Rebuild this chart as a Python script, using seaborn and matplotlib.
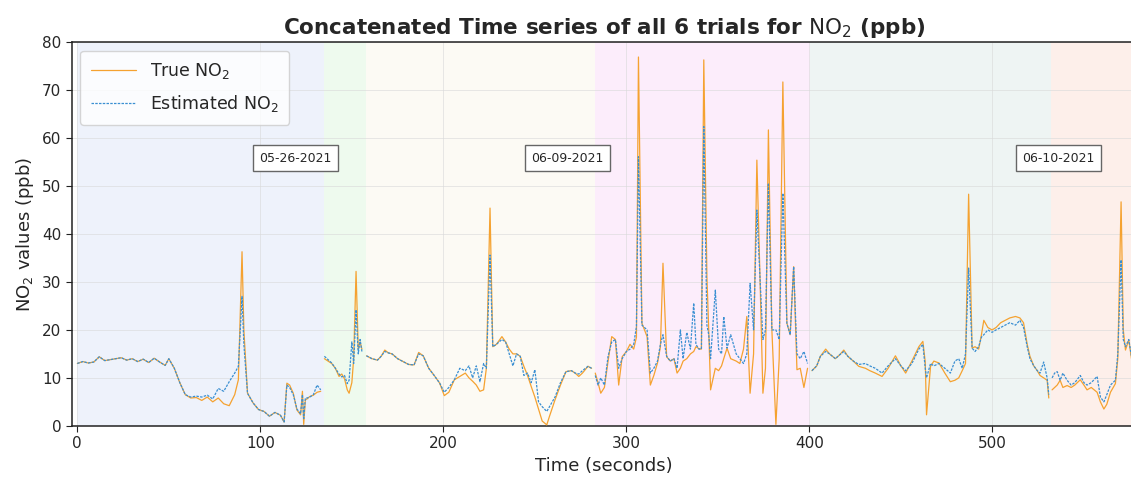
import numpy as np
import pandas as pd
import matplotlib
matplotlib.use("Agg")
import matplotlib.pyplot as plt
import seaborn as sns

# ---- data (time in s, NO2 in ppb) ----
t1 = [0, 3, 6, 9, 12, 15, 18, 21, 24, 27, 30, 33, 36, 39, 42, 45, 48, 50, 53, 56, 59,
      62, 65, 68, 71, 74, 77, 80, 83, 86, 88, 90, 91, 93, 96, 99, 102, 105, 108, 111,
      113, 114.5, 116, 118, 120, 122, 123, 123.7, 124.6, 125.5, 127, 129, 131, 133]
true1 = [13.0, 13.4, 13.1, 13.3, 14.4, 13.6, 13.8, 14.0, 14.2, 13.7, 14.0, 13.4, 13.9, 13.2,
         14.1, 13.3, 12.6, 14.0, 12.0, 9.0, 6.5, 5.8, 5.9, 5.3, 6.0, 5.0, 5.8, 4.6, 4.2, 6.5,
         9.6, 36.3, 20.0, 6.8, 4.8, 3.4, 3.0, 2.0, 2.8, 2.2, 0.8, 8.9, 8.5, 6.8, 3.3, 2.3,
         7.2, 0.3, 5.4, 5.6, 6.1, 6.4, 7.0, 7.2]
est1 = [13.0, 13.4, 13.1, 13.3, 14.4, 13.6, 13.8, 14.0, 14.2, 13.7, 14.0, 13.4, 13.9, 13.2,
        14.1, 13.3, 12.6, 14.0, 12.0, 9.0, 6.5, 6.0, 6.2, 6.0, 6.4, 5.6, 7.8, 7.2, 9.2, 11.0,
        12.4, 27.0, 17.0, 6.8, 4.8, 3.4, 3.0, 2.0, 2.8, 2.2, 0.8, 8.5, 8.0, 6.5, 3.5, 2.5,
        6.5, 1.5, 5.8, 5.8, 6.0, 6.5, 8.5, 7.5]

t2 = [135, 137, 139, 141, 143, 144.5, 146, 147.5, 148.5, 150, 151, 152.3, 153.5, 154.5, 155.5]
true2 = [14.0, 13.5, 13.0, 12.0, 10.3, 10.8, 9.8, 7.5, 6.8, 9.0, 14.0, 32.2, 16.0, 17.5, 16.0]
est2 = [14.5, 13.8, 13.1, 12.0, 10.8, 10.2, 10.5, 8.8, 9.5, 17.5, 13.0, 24.2, 15.0, 18.0, 15.5]

t3 = [158, 161, 164, 166, 168, 170, 172, 175, 178, 181, 184, 186.5, 189, 192, 195, 198,
      200.5, 203, 206, 209, 212, 214, 216, 218, 220, 222, 223.5, 225.5, 227, 229, 232, 234,
      236, 238, 240, 242, 244, 246, 248, 250, 252, 254, 256.5, 258, 261, 264, 267, 270,
      272, 274, 276, 279, 281]
true3 = [14.6, 14.0, 13.7, 14.5, 15.8, 15.2, 15.0, 14.0, 13.4, 12.8, 12.7, 15.3, 14.6, 12.0,
         10.5, 8.9, 6.3, 7.0, 9.6, 10.3, 11.0, 10.0, 9.3, 8.5, 7.2, 7.5, 12.0, 45.4, 16.5,
         17.0, 18.6, 17.5, 16.0, 15.0, 15.0, 14.5, 12.4, 10.5, 8.2, 6.0, 3.5, 1.0, 0.2, 2.0,
         5.4, 8.5, 11.3, 11.5, 11.0, 10.3, 11.0, 12.4, 12.0]
est3 = [14.6, 14.0, 13.7, 14.5, 15.5, 15.2, 15.0, 14.0, 13.4, 12.8, 12.7, 15.0, 14.6, 12.0,
        10.5, 8.9, 7.0, 8.0, 9.6, 12.0, 11.5, 12.5, 10.0, 12.5, 9.2, 13.0, 12.0, 35.6, 16.5,
        17.0, 18.0, 17.5, 15.0, 12.5, 15.0, 14.5, 10.5, 11.0, 9.0, 11.7, 5.0, 4.0, 3.0, 4.0,
        6.0, 9.0, 11.3, 11.5, 11.0, 10.8, 11.5, 12.4, 12.0]

t4 = [283, 284.5, 286, 288, 290, 292, 294, 295.8, 297.7, 300, 302, 304, 305.5, 306.6,
      308.5, 311.3, 313.1, 315, 317, 318.6, 320, 322, 324, 326, 327.7, 329.5, 331, 333,
      335, 336.8, 338, 339.6, 341, 342.3, 344, 345, 346, 348.6, 350.4, 352, 353.2, 355,
      357, 360, 362, 364, 365.8, 367.6, 369.5, 371.3, 373, 374.6, 376, 377.6, 379.5,
      381.7, 383.5, 385.5, 387.7, 389.5, 391.4, 393.2, 395, 397, 399]
true4 = [11.0, 9.0, 6.8, 8.0, 13.5, 18.6, 18.0, 8.5, 14.4, 15.5, 17.0, 16.0, 18.5, 76.9,
         21.4, 18.6, 8.5, 10.5, 13.1, 16.5, 33.9, 14.4, 13.5, 14.0, 11.0, 12.0, 13.5, 14.0,
         15.0, 15.5, 16.5, 16.1, 16.0, 76.3, 31.1, 20.0, 7.5, 12.0, 11.5, 12.5, 14.0, 16.2,
         14.0, 13.5, 13.0, 16.0, 22.8, 6.8, 15.0, 55.4, 31.0, 6.8, 12.0, 61.7, 20.0, 0.3,
         14.0, 71.7, 21.4, 19.0, 33.2, 11.7, 12.0, 8.0, 12.0]
est4 = [10.5, 8.5, 10.0, 8.5, 14.5, 17.5, 18.0, 12.0, 14.0, 15.5, 16.0, 17.0, 20.7, 56.1,
        21.0, 20.0, 11.0, 12.0, 13.5, 17.0, 19.0, 14.5, 13.5, 14.0, 12.0, 20.0, 14.0, 19.5,
        16.0, 25.6, 17.0, 16.0, 16.0, 62.4, 21.0, 19.0, 14.0, 28.3, 16.0, 15.0, 22.8, 16.2,
        19.0, 15.0, 14.0, 13.0, 15.0, 29.7, 20.0, 45.0, 31.0, 18.0, 20.0, 50.6, 20.0, 20.0,
        18.0, 48.5, 21.4, 19.0, 33.2, 15.0, 14.0, 15.5, 13.0]

t5 = [401.4, 404, 406, 408.9, 411, 414.2, 416.5, 418.8, 421, 424, 427, 430.6, 433, 436,
      439.7, 443, 447, 450, 452.6, 456, 459.8, 462, 463.3, 464, 466.2, 468, 470.8, 474,
      477, 479.5, 481.6, 483.5, 485.3, 487, 488.9, 490.5, 492.5, 494, 495.3, 497.5, 499.8,
      502, 504.5, 507, 509.5, 512.6, 515, 517, 519, 520.5, 522.6, 524.5, 526, 528, 529.9,
      530.8]
true5 = [11.5, 12.5, 14.5, 16.0, 15.0, 14.0, 14.8, 15.8, 14.5, 13.5, 12.4, 12.0, 11.5, 11.0,
         10.3, 12.0, 14.6, 12.5, 11.0, 13.5, 16.5, 17.6, 13.3, 2.3, 12.4, 13.5, 13.1, 11.0,
         9.2, 9.5, 10.0, 11.5, 13.0, 48.3, 16.2, 16.5, 16.0, 19.0, 22.0, 20.5, 20.0, 20.5,
         21.5, 22.0, 22.5, 22.8, 22.5, 21.5, 17.0, 14.5, 12.5, 11.5, 10.5, 10.0, 9.5, 5.8]
est5 = [11.5, 12.5, 14.5, 15.5, 15.0, 14.0, 14.8, 15.5, 14.5, 13.5, 12.8, 13.0, 12.5, 12.0,
        11.0, 12.5, 14.0, 12.5, 11.5, 13.0, 16.0, 17.0, 12.0, 10.0, 13.0, 12.5, 13.0, 12.0,
        11.0, 13.5, 14.0, 12.0, 15.0, 32.9, 16.2, 15.5, 16.5, 18.5, 19.0, 20.0, 19.5, 20.0,
        20.5, 21.0, 21.5, 21.0, 22.0, 20.5, 16.5, 14.0, 12.5, 11.5, 11.0, 13.3, 10.0, 6.5]

t6 = [532.6, 534, 535.4, 537, 538.5, 540.8, 543, 545, 548, 550, 551.7, 554, 557.2, 559,
      560.9, 562.5, 564.5, 567.2, 568.5, 570.3, 571.5, 572.7, 574.5, 576]
true6 = [7.5, 8.0, 8.5, 9.5, 8.0, 8.4, 8.0, 8.5, 9.6, 8.5, 7.5, 8.0, 7.0, 5.0, 3.5, 4.5,
         7.0, 8.8, 14.0, 46.7, 20.0, 15.8, 17.9, 14.0]
est6 = [10.0, 11.0, 11.3, 9.5, 11.0, 9.5, 8.5, 9.0, 10.5, 9.0, 8.5, 9.0, 10.3, 6.0, 5.0,
        6.5, 8.5, 9.5, 15.0, 34.6, 18.0, 16.5, 18.0, 14.5]

trial_spans = [(0, 135), (135, 158), (158, 283), (283, 400.5), (400.5, 532), (532, 580)]
span_colors = ["#eef2fb", "#eefaee", "#fcfaf4", "#fcedfb", "#eef4f3", "#fdefea"]
dates = ["05-26-2021", "06-09-2021", "06-10-2021"]
date_x = [119, 268, 536]
date_y = 55.8

trials = [(t1, true1, est1), (t2, true2, est2), (t3, true3, est3),
          (t4, true4, est4), (t5, true5, est5), (t6, true6, est6)]
frames = []
for i, (t, tr, es) in enumerate(trials):
    frames.append(pd.DataFrame({"time": t, "true": tr, "est": es, "trial": i}))
df = pd.concat(frames, ignore_index=True)

sns.set_style("ticks")
plt.rcParams["font.family"] = ["DejaVu Sans"]

fig = plt.figure(figsize=(11.31, 4.79), dpi=100)
# axes runs a little past the right edge, as in the reference (no right spine visible)
ax = fig.add_axes([0.0635, 0.111, 0.941, 0.801])

for (a, b), c in zip(trial_spans, span_colors):
    ax.axvspan(a, b, color=c, zorder=0, lw=0)

orange = "#f5a230"
blue = "#3a8fd2"
for i, g in df.groupby("trial"):
    sns.lineplot(data=g, x="time", y="true", ax=ax, color=orange, lw=0.9,
                 label=r"True $\mathrm{NO}_2$" if i == 0 else None, sort=False, zorder=3)
    sns.lineplot(data=g, x="time", y="est", ax=ax, color=blue, lw=0.9,
                 linestyle=(0, (2, 1)),
                 label=r"Estimated $\mathrm{NO}_2$" if i == 0 else None,
                 sort=False, zorder=4)

for d, x in zip(dates, date_x):
    ax.text(x, date_y, d, ha="center", va="center", fontsize=9,
            bbox=dict(boxstyle="square,pad=0.5", fc="white", ec="#666666", lw=1))

ax.set_xlim(-3, 578.5)
ax.set_ylim(0, 80)
ax.set_xticks([0, 100, 200, 300, 400, 500])
ax.set_yticks(range(0, 81, 10))
ax.grid(True, color="#d9d9d9", lw=0.6, alpha=0.7)
ax.tick_params(labelsize=11, direction="out", length=4, color="#222222")
for s in ax.spines.values():
    s.set_color("#222222")
    s.set_linewidth(1.1)

ax.set_xlabel("Time (seconds)", fontsize=13)
ax.set_ylabel(r"$\mathrm{NO}_2$ values (ppb)", fontsize=13)
ax.set_title(r"Concatenated Time series of all 6 trials for $\mathrm{NO}_2$ (ppb)",
             fontsize=15.5, fontweight="bold", pad=6)
leg = ax.legend(loc="upper left", fontsize=12.5, frameon=True, fancybox=True,
                framealpha=0.8, edgecolor="#cccccc", handlelength=2.6,
                borderpad=0.6, labelspacing=0.7)

fig.savefig("out.png", dpi=100)
